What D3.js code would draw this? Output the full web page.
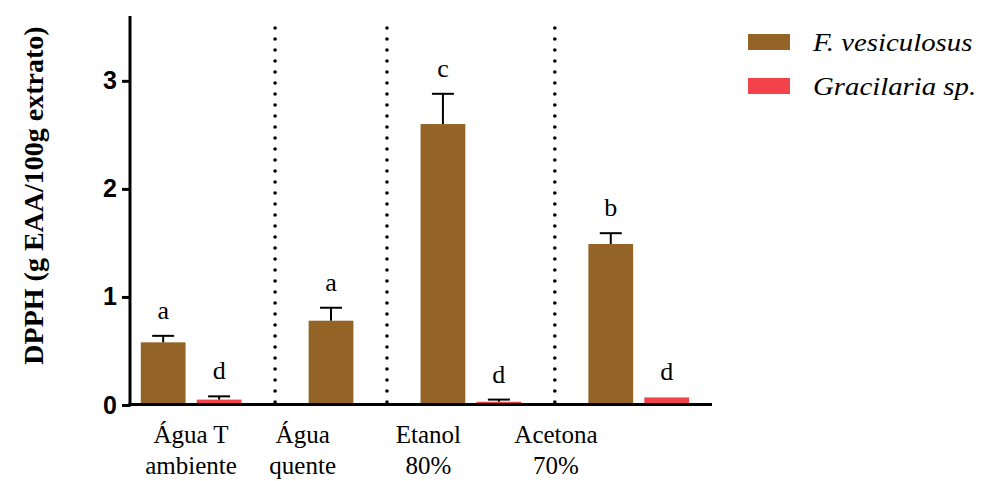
<!DOCTYPE html>
<html>
<head>
<meta charset="utf-8">
<script src="https://cdn.jsdelivr.net/npm/d3@7"></script>
<style>
  html, body { margin: 0; padding: 0; background: #fff; }
  svg { display: block; }
</style>
</head>
<body>
<svg id="chart" width="984" height="481"></svg>
<script>
// ---- data ----
const categories = ["Água T ambiente", "Água quente", "Etanol 80%", "Acetona 70%"];
const categoryLines = [["Água T", "ambiente"], ["Água", "quente"], ["Etanol", "80%"], ["Acetona", "70%"]];
const seriesNames = ["F. vesiculosus", "Gracilaria sp."];
const fvesValues = [0.58, 0.78, 2.60, 1.49];
const fvesErrors = [0.06, 0.12, 0.28, 0.10];
const gracValues = [0.05, null, 0.03, 0.07];
const gracErrors = [0.03, null, 0.02, 0.0];
const fvesLetters = ["a", "a", "c", "b"];
const gracLetters = ["d", null, "d", "d"];
const yTicks = [0, 1, 2, 3];

// ---- style ----
const colors = ["#936426", "#f2424a"];
const SERIF = "Liberation Serif";
const SANS = "Liberation Sans";
const svg = d3.select("#chart");

function serifText(sel, size) {
  return sel.style("font-family", SERIF).style("font-size", size + "px").attr("fill", "#000");
}

// slots: a slot per bar, plus an empty separator slot between categories
const slots = [];
const bars = [];
const seps = [];
categories.forEach((c, i) => {
  slots.push("F" + i);
  bars.push({slot: "F" + i, value: fvesValues[i], err: fvesErrors[i], letter: fvesLetters[i], s: 0});
  if (gracValues[i] != null) {
    slots.push("G" + i);
    bars.push({slot: "G" + i, value: gracValues[i], err: gracErrors[i], letter: gracLetters[i], s: 1});
  }
  if (i < categories.length - 1) { slots.push("S" + i); seps.push("S" + i); }
});

const x = d3.scaleBand().domain(slots).range([140.8, 689.1]).paddingInner(0.2).paddingOuter(0);
const y = d3.scaleLinear().domain([0, 3.6]).range([405, 16]);

// separators (dotted)
svg.append("g").selectAll("line").data(seps).join("line")
  .attr("x1", d => x(d) + x.bandwidth() / 2)
  .attr("x2", d => x(d) + x.bandwidth() / 2)
  .attr("y1", y(0) - 3)
  .attr("y2", y(3.55))
  .attr("stroke", "#000")
  .attr("stroke-width", 3.6)
  .attr("stroke-linecap", "round")
  .attr("stroke-dasharray", "0 11");

// bars
svg.append("g").selectAll("rect").data(bars).join("rect")
  .attr("x", d => x(d.slot))
  .attr("width", x.bandwidth())
  .attr("y", d => y(d.value))
  .attr("height", d => y(0) - y(d.value))
  .attr("fill", d => colors[d.s]);

// error bars (upper only)
const eb = svg.append("g").attr("stroke", "#000").attr("stroke-width", 2);
bars.filter(d => d.err > 0).forEach(d => {
  const cx = x(d.slot) + x.bandwidth() / 2;
  eb.append("line").attr("x1", cx).attr("x2", cx).attr("y1", y(d.value)).attr("y2", y(d.value + d.err));
  eb.append("line").attr("x1", cx - 11).attr("x2", cx + 11).attr("y1", y(d.value + d.err)).attr("y2", y(d.value + d.err));
});

// significance letters
serifText(svg.append("g").selectAll("text").data(bars.filter(d => d.letter)).join("text"), 26)
  .attr("x", d => x(d.slot) + x.bandwidth() / 2)
  .attr("y", d => y(d.value + d.err) - 17)
  .attr("text-anchor", "middle")
  .text(d => d.letter);

// y axis
const yAxis = svg.append("g").attr("transform", "translate(130,0)")
  .call(d3.axisLeft(y).tickValues(yTicks).tickFormat(d3.format("d")).tickSize(8).tickPadding(5));
yAxis.attr("font-family", null).attr("font-size", null);
yAxis.select(".domain").attr("d", `M0,${y(3.6)}V${y(0) + 1.5}`).attr("stroke-width", 3);
yAxis.selectAll(".tick line").attr("stroke-width", 3);
yAxis.selectAll(".tick text")
  .style("font-family", SANS)
  .style("font-weight", "bold")
  .style("font-size", "25px")
  .attr("fill", "#000");

// x axis line
svg.append("line")
  .attr("x1", 128.5).attr("x2", 712)
  .attr("y1", y(0) - 0.5).attr("y2", y(0) - 0.5)
  .attr("stroke", "#000").attr("stroke-width", 3);

// category labels
const labelX = d3.scalePoint().domain(categories).range([191, 556]);
const labelNudge = [0, -10, -6, 0];
categories.forEach((c, i) => {
  categoryLines[i].forEach((ln, j) => {
    serifText(svg.append("text"), 25)
      .attr("x", labelX(c) + labelNudge[i])
      .attr("y", 443 + j * 31)
      .attr("text-anchor", "middle")
      .text(ln);
  });
});

// y label
serifText(svg.append("text"), 28)
  .attr("transform", `translate(43,${(y(3.6) + y(0)) / 2 - 15}) rotate(-90)`)
  .attr("text-anchor", "middle")
  .style("font-weight", "bold")
  .text("DPPH (g EAA/100g extrato)");

// legend
const lg = svg.append("g").attr("transform", "translate(748,34)");
seriesNames.forEach((n, i) => {
  const row = lg.append("g").attr("transform", `translate(0,${i * 44})`);
  row.append("rect").attr("width", 42).attr("height", 16).attr("fill", colors[i]);
  serifText(row.append("text"), 24)
    .attr("transform", "translate(65,17) scale(1.2,1.05)")
    .style("font-style", "italic")
    .text(n);
});
</script>
</body>
</html>
